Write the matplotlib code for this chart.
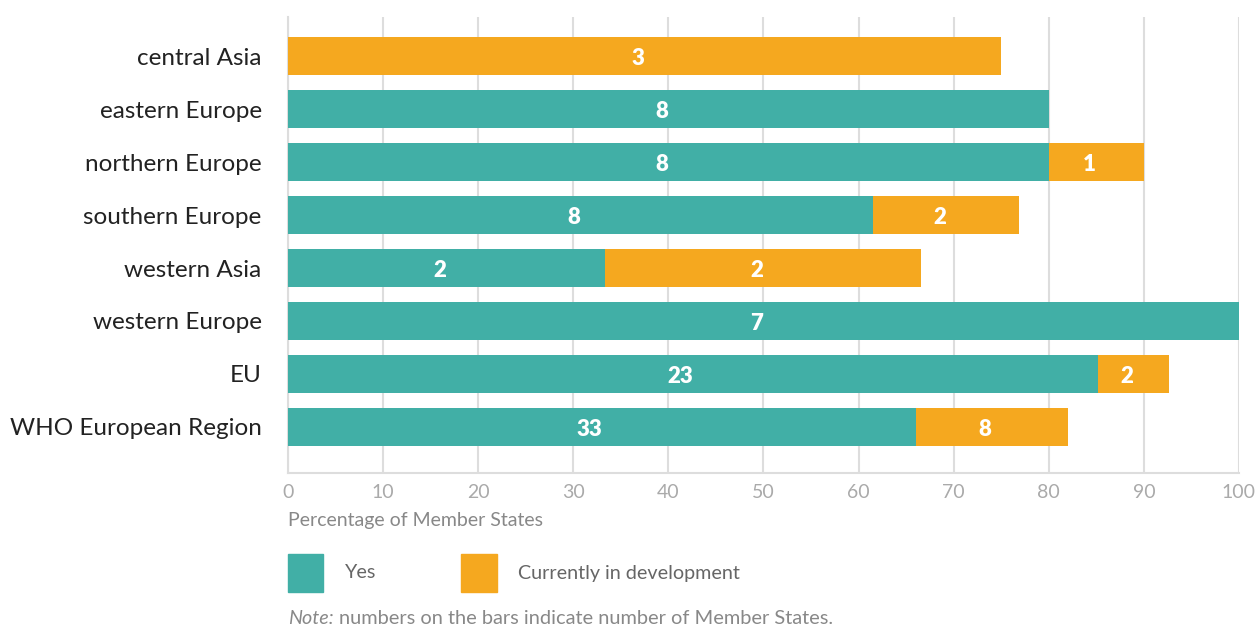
import matplotlib
matplotlib.use("Agg")
import matplotlib.pyplot as plt
from matplotlib.patches import Rectangle

plt.rcParams['font.family'] = ['Lato', 'DejaVu Sans']

regions = ["central Asia", "eastern Europe", "northern Europe", "southern Europe",
           "western Asia", "western Europe", "EU", "WHO European Region"]
# percentage of Member States
yes_pct = [0, 80, 80, 61.5, 33.3, 100, 85.2, 66]
dev_pct = [75, 0, 10, 15.4, 33.3, 0, 7.4, 16]
# number of Member States shown on the bars
yes_n = [0, 8, 8, 8, 2, 7, 23, 33]
dev_n = [3, 0, 1, 2, 2, 0, 2, 8]

TEAL = "#41AFA6"
ORANGE = "#F5A81F"
GRID = "#DDDDDD"

fig = plt.figure(figsize=(12.6, 6.28), dpi=100)
ax = fig.add_axes([0.2286, 0.2468, 0.7547, 0.7262])

ypos = list(range(len(regions)))
ax.barh(ypos, yes_pct, height=0.72, color=TEAL, zorder=3)
ax.barh(ypos, dev_pct, left=yes_pct, height=0.72, color=ORANGE, zorder=3)

# counts end at the middle of each segment
for y, yp, dp, yn, dn in zip(ypos, yes_pct, dev_pct, yes_n, dev_n):
    if yn:
        ax.text(yp / 2, y + 0.05, str(yn), ha="right", va="center", color="white",
                fontsize=16, fontweight="heavy", zorder=4)
    if dn:
        ax.text(yp + dp / 2, y + 0.05, str(dn), ha="right", va="center",
                color="white", fontsize=16, fontweight="heavy", zorder=4)

ax.set_xlim(0, 100)
ax.set_ylim(7.87, -0.74)
ax.set_xticks(range(0, 101, 10))
ax.set_yticks(ypos)
ax.set_yticklabels(regions, fontsize=17.5, color="#222222")
ax.tick_params(axis="y", length=0, pad=19)
ax.tick_params(axis="x", length=0, pad=8, labelsize=14, labelcolor="#AAAAAA")
ax.grid(axis="x", color=GRID, linewidth=1.5, zorder=0)
for side in ["top", "right"]:
    ax.spines[side].set_visible(False)
ax.spines["left"].set_color(GRID)
ax.spines["left"].set_linewidth(1.5)
ax.spines["bottom"].set_color(GRID)
ax.spines["bottom"].set_linewidth(1.5)

ax.set_xlabel("Percentage of Member States", fontsize=14, color="#888888",
              loc="left", labelpad=8)

# legend drawn in figure pixels
W, H = 1260, 628
def fx(px):
    return px / W
def fy(py):
    return 1 - py / H

fig.patches.append(Rectangle((fx(288), fy(592)), 35 / W, 38 / H,
                             transform=fig.transFigure, color=TEAL))
fig.text(fx(345), fy(573), "Yes", fontsize=14.2, color="#666666", va="center")
fig.patches.append(Rectangle((fx(461), fy(592)), 36 / W, 38 / H,
                             transform=fig.transFigure, color=ORANGE))
fig.text(fx(518), fy(573), "Currently in development", fontsize=14.2,
         color="#666666", va="center")

fig.text(fx(288), fy(618), "Note:", fontsize=14.2, color="#888888",
         style="italic", va="center")
fig.text(fx(339), fy(618), "numbers on the bars indicate number of Member States.",
         fontsize=14.4, color="#888888", va="center")

fig.savefig("out.png", dpi=100, facecolor="white")
